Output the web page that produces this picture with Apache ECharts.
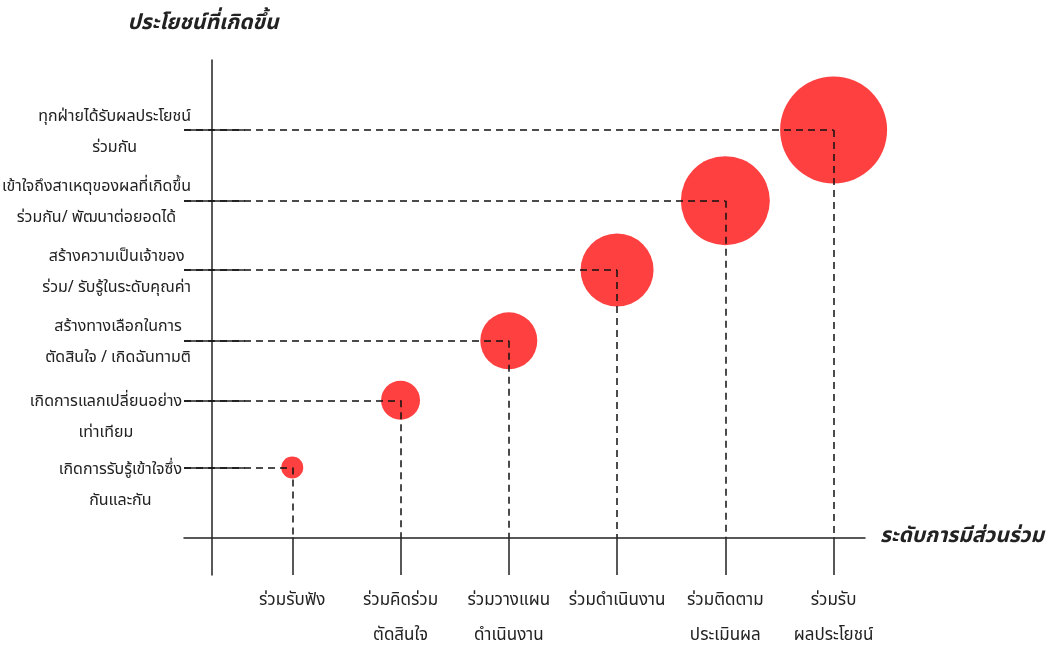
<!DOCTYPE html>
<html><head><meta charset="utf-8">
<script src="https://cdn.jsdelivr.net/npm/echarts@6/dist/echarts.min.js"></script>
<style>html,body{margin:0;padding:0;background:#fff}#c{width:1049px;height:649px}</style>
</head><body><div id="c"></div>
<script>
// Categories (x: participation levels, y: benefits), bottom to top / left to right
const participationLevels = ['ร่วมรับฟัง', 'ร่วมคิดร่วม\nตัดสินใจ', 'ร่วมวางแผน\nดำเนินงาน', 'ร่วมดำเนินงาน', 'ร่วมติดตาม\nประเมินผล', 'ร่วมรับ\nผลประโยชน์'];
const benefitLabels = ['เกิดการรับรู้เข้าใจซึ่ง\nกันและกัน', 'เกิดการแลกเปลี่ยนอย่าง\nเท่าเทียม', 'สร้างทางเลือกในการ\nตัดสินใจ / เกิดฉันทามติ', 'สร้างความเป็นเจ้าของ\nร่วม/ รับรู้ในระดับคุณค่า', 'เข้าใจถึงสาเหตุของผลที่เกิดขึ้น\nร่วมกัน/ พัฒนาต่อยอดได้', 'ทุกฝ่ายได้รับผลประโยชน์\nร่วมกัน'];
// Series values
const xValues = [1, 2, 3, 4, 5, 6];
const yValues = [1.0, 1.96, 2.81, 3.82, 4.81, 5.82];
const bubbleSizes = [22, 39, 57, 73, 89, 107];
// Which y labels put their first line on the tick (others are centred on it)
const firstLineOnTick = [true, true, false, false, false, false];

const FONT = "Tahoma, 'Noto Sans Thai', 'Noto Sans', sans-serif";
const INK = '#222';
const Y_MIN = -0.536, Y_MAX = 6.82, GRID_TOP = 60, GRID_BOTTOM = 74, CHART_H = 649;
const LINE_H = 31;
const pxToY = (Y_MAX - Y_MIN) / (CHART_H - GRID_TOP - GRID_BOTTOM);
// label anchor values: nudged slightly down; shifted half a line more for labels whose first line sits on the tick
const labelAnchors = yValues.map((y, i) => y - ((firstLineOnTick[i] ? LINE_H / 2 : 0) + 3) * pxToY);

const data = xValues.map((x, i) => [x, yValues[i], bubbleSizes[i]]);
const guideLines = [];
xValues.forEach((x, i) => {
  guideLines.push([{ coord: [0, yValues[i]] }, { coord: [x, yValues[i]] }]);
  guideLines.push([{ coord: [x, yValues[i]] }, { coord: [x, 0] }]);
});

const yRichBase = { fontFamily: FONT, fontSize: 16, lineHeight: LINE_H, color: INK, align: 'center' };

const chart = echarts.init(document.getElementById('c'));
chart.setOption({
  animation: false,
  backgroundColor: '#fff',
  grid: { left: 184, right: 184, top: GRID_TOP, bottom: GRID_BOTTOM, containLabel: false, outerBoundsMode: 'none' },
  xAxis: {
    type: 'value', min: 0, max: 6.29, position: 'bottom', offset: -37.5,
    axisLine: { show: true, onZero: false, lineStyle: { color: INK, width: 1.5 } },
    axisTick: { show: true, customValues: xValues, length: 37.5, inside: false, lineStyle: { color: INK, width: 1.5 } },
    splitLine: { show: false },
    axisLabel: {
      customValues: xValues, margin: 47, lineHeight: 35, showMinLabel: true, showMaxLabel: true, hideOverlap: false,
      formatter: function (v) {
        const i = xValues.indexOf(Math.round(v));
        if (i < 0) return '';
        return participationLevels[i].split('\n').map(s => '{t|' + s + '}').join('\n');
      },
      rich: { t: { fontFamily: FONT, fontSize: 17, lineHeight: 35, color: INK, align: 'center' } }
    },
    name: 'ระดับการมีส่วนร่วม', nameLocation: 'end', nameGap: 15,
    nameTextStyle: { fontFamily: FONT, fontSize: 21, fontWeight: 'bold', fontStyle: 'italic', color: INK }
  },
  yAxis: [{
    type: 'value', min: Y_MIN, max: Y_MAX, position: 'left', offset: -28,
    axisLine: { show: true, onZero: false, lineStyle: { color: INK, width: 1.5 } },
    axisTick: { show: true, customValues: yValues, length: 28, inside: false, lineStyle: { color: INK, width: 1.5 } },
    splitLine: { show: false },
    axisLabel: {
      customValues: labelAnchors, margin: 21, lineHeight: LINE_H,
      showMinLabel: true, showMaxLabel: true, hideOverlap: false,
      formatter: function (v) {
        const i = labelAnchors.findIndex(y => Math.abs(y - v) < 1e-6);
        if (i < 0) return '';
        const key = firstLineOnTick[i] ? 'p' : 't';
        return benefitLabels[i].split('\n').map(s => '{' + key + '|' + s + '}').join('\n');
      },
      rich: {
        t: yRichBase,
        p: Object.assign({}, yRichBase, { padding: [0, 9, 0, 0] })
      }
    },
    name: 'ประโยชน์ที่เกิดขึ้น', nameLocation: 'end', nameGap: 25,
    nameTextStyle: { fontFamily: FONT, fontSize: 21, fontWeight: 'bold', fontStyle: 'italic', color: INK, padding: [0, 18, 0, 0] }
  }, {
    type: 'value', min: Y_MIN, max: Y_MAX, position: 'right', offset: -653,
    axisLine: { show: false, onZero: false },
    axisTick: { show: true, customValues: yValues, length: 33, inside: false, lineStyle: { color: INK, width: 1.5 } },
    axisLabel: { show: false },
    splitLine: { show: false }
  }],
  series: [{
    type: 'scatter', z: 2,
    data: data,
    symbolSize: function (v) { return v[2]; },
    itemStyle: { color: '#ff4040', opacity: 1 },
    emphasis: { disabled: true },
    markLine: {
      z: 5, silent: true, symbol: ['none', 'none'], animation: false,
      label: { show: false },
      lineStyle: { type: [7, 5], color: '#111', width: 1.5 },
      emphasis: { disabled: true },
      data: guideLines
    }
  }]
});
</script></body></html>
